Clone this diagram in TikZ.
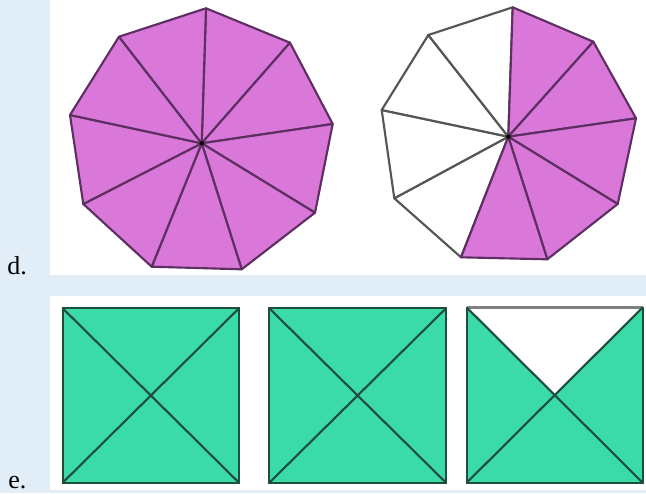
\documentclass[tikz,border=0pt]{standalone}
\usepackage{fontspec}
\setmainfont{Liberation Serif}
\usetikzlibrary{calc}
\definecolor{bgblue}{HTML}{E2EEF7}
\definecolor{purp}{HTML}{DA78DA}
\definecolor{purpline}{HTML}{5E2F62}
\definecolor{grn}{HTML}{3ADBA8}
\definecolor{grnline}{HTML}{1E4F3E}
\definecolor{greyline}{HTML}{555555}
\definecolor{topgrey}{HTML}{808080}
\begin{document}
\begin{tikzpicture}[x=0.75pt,y=-0.75pt,
  pfill/.style={fill=purp,draw=purpline,line width=1.6pt,line join=round},
  wfill/.style={fill=white,draw=greyline,line width=1.6pt,line join=round},
  sq/.style={fill=grn,draw=grnline,line width=1.5pt},
  diag/.style={draw=grnline,line width=1.6pt},
  lbl/.style={font=\fontsize{19.5}{22}\selectfont,anchor=base west,inner sep=0pt}]
\useasboundingbox (0,0) rectangle (646,493);
\fill[bgblue] (0,0) rectangle (646,493);
\fill[white] (50,0) rectangle (646,275);
\fill[white] (50,296) rectangle (646,490);
% labels
\node[lbl] (ld) at (7,274) {d.};
\node[lbl] (le) at (8,488) {e.};
% left nonagon
\coordinate (L0) at (206,8.3);
\coordinate (L1) at (290,42.7);
\coordinate (L2) at (332.7,124);
\coordinate (L3) at (315,212.7);
\coordinate (L4) at (241.7,269.3);
\coordinate (L5) at (151.7,266.7);
\coordinate (L6) at (83.3,204);
\coordinate (L7) at (70,115);
\coordinate (L8) at (119,36.7);
\coordinate (LC) at (201.7,143.3);
\foreach \a/\b in {0/1,1/2,2/3,3/4,4/5,5/6,6/7,7/8,8/0}
  \path[pfill] (LC) -- (L\a) -- (L\b) -- cycle;
\fill[black] (LC) circle (2.2);
% right nonagon
\coordinate (R0) at (512.7,7.3);
\coordinate (R1) at (593.3,41.7);
\coordinate (R2) at (636,118.3);
\coordinate (R3) at (617.7,204);
\coordinate (R4) at (547.3,259.3);
\coordinate (R5) at (461,257.3);
\coordinate (R6) at (394.3,198.3);
\coordinate (R7) at (381.7,110);
\coordinate (R8) at (428.3,35);
\coordinate (RC) at (508.3,136.7);
\foreach \a/\b in {5/6,6/7,7/8,8/0}
  \path[wfill] (RC) -- (R\a) -- (R\b) -- cycle;
\foreach \a/\b in {0/1,1/2,2/3,3/4,4/5}
  \path[pfill] (RC) -- (R\a) -- (R\b) -- cycle;
\fill[black] (RC) circle (2.2);
% squares
\coordinate (A1) at (62.7,308.3);  \coordinate (B1) at (239,308.3);
\coordinate (C1) at (239,482.7);   \coordinate (D1) at (62.7,482.7);
\coordinate (A2) at (269.3,308.3); \coordinate (B2) at (446,308.3);
\coordinate (C2) at (446,482.7);   \coordinate (D2) at (269.3,482.7);
\coordinate (A3) at (466.7,307.5); \coordinate (B3) at (642.7,307.5);
\coordinate (C3) at (642.7,482.7); \coordinate (D3) at (466.7,482.7);
\path[sq] (A1) -- (B1) -- (C1) -- (D1) -- cycle;
\draw[diag] (A1) -- (C1) (B1) -- (D1);
\path[sq] (A2) -- (B2) -- (C2) -- (D2) -- cycle;
\draw[diag] (A2) -- (C2) (B2) -- (D2);
\path[sq] (A3) -- (B3) -- (C3) -- (D3) -- cycle;
\coordinate (M3) at ($(A3)!0.5!(C3)$);
\fill[white] (A3) -- (B3) -- (M3) -- cycle;
\draw[draw=topgrey,line width=1.6pt] (A3) -- (B3);
\draw[diag] (A3) -- (C3) (B3) -- (D3);
\end{tikzpicture}
\end{document}
